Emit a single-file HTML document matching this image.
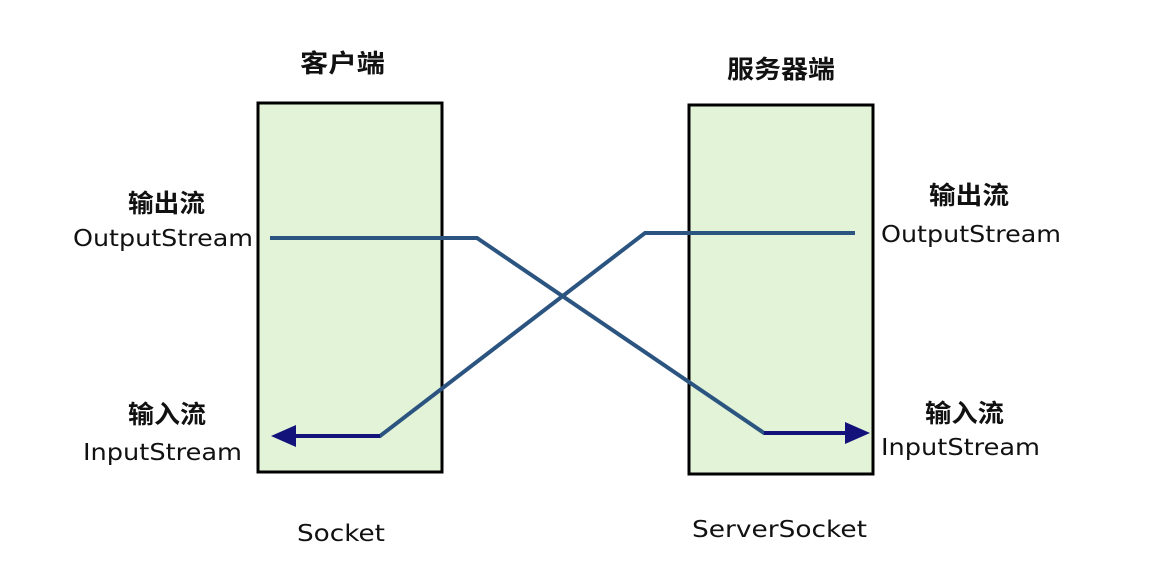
<!DOCTYPE html>
<html><head><meta charset="utf-8"><style>
html,body{margin:0;padding:0;background:#fff;}
svg{display:block;}
text{font-family:"DejaVu Sans","Noto Sans CJK SC",sans-serif;fill:#111;}
.c{font-family:"Noto Sans CJK SC",sans-serif;font-weight:bold;font-size:25px;}
.e{font-size:23px;}
</style></head><body>
<svg width="1174" height="575" viewBox="0 0 1174 575">
<rect x="258" y="103" width="184" height="369" fill="#e2f3d7" stroke="#000" stroke-width="3"/>
<rect x="689" y="105" width="184" height="369" fill="#e2f3d7" stroke="#000" stroke-width="3"/>
<polyline points="270,238 477,238 764,433 845,433" fill="none" stroke="#2b5580" stroke-width="4"/>
<line x1="764" y1="433" x2="848" y2="433" stroke="#12127a" stroke-width="4"/>
<polygon points="845,422 870,433 845,444" fill="#12127a"/>
<polyline points="855,233 645,233 380,436 295,436" fill="none" stroke="#2b5580" stroke-width="4"/>
<line x1="380" y1="436" x2="293" y2="436" stroke="#12127a" stroke-width="4"/>
<polygon points="296,425 271,436 296,447" fill="#12127a"/>
<text class="c" x="300" y="72" textLength="85" lengthAdjust="spacingAndGlyphs">客户端</text>
<text class="c" x="727" y="78" textLength="108" lengthAdjust="spacingAndGlyphs">服务器端</text>
<text class="c" x="128" y="212" textLength="77" lengthAdjust="spacingAndGlyphs">输出流</text>
<text class="e" x="73" y="246" textLength="180" lengthAdjust="spacingAndGlyphs">OutputStream</text>
<text class="c" x="128" y="423" textLength="78" lengthAdjust="spacingAndGlyphs">输入流</text>
<text class="e" x="83" y="460" textLength="159" lengthAdjust="spacingAndGlyphs">InputStream</text>
<text class="c" x="929" y="204" textLength="80" lengthAdjust="spacingAndGlyphs">输出流</text>
<text class="e" x="881" y="242" textLength="180" lengthAdjust="spacingAndGlyphs">OutputStream</text>
<text class="c" x="925" y="422" textLength="79" lengthAdjust="spacingAndGlyphs">输入流</text>
<text class="e" x="881" y="455" textLength="159" lengthAdjust="spacingAndGlyphs">InputStream</text>
<text class="e" x="297" y="541" textLength="88" lengthAdjust="spacingAndGlyphs">Socket</text>
<text class="e" x="692" y="537" textLength="175" lengthAdjust="spacingAndGlyphs">ServerSocket</text>
</svg>
</body></html>
